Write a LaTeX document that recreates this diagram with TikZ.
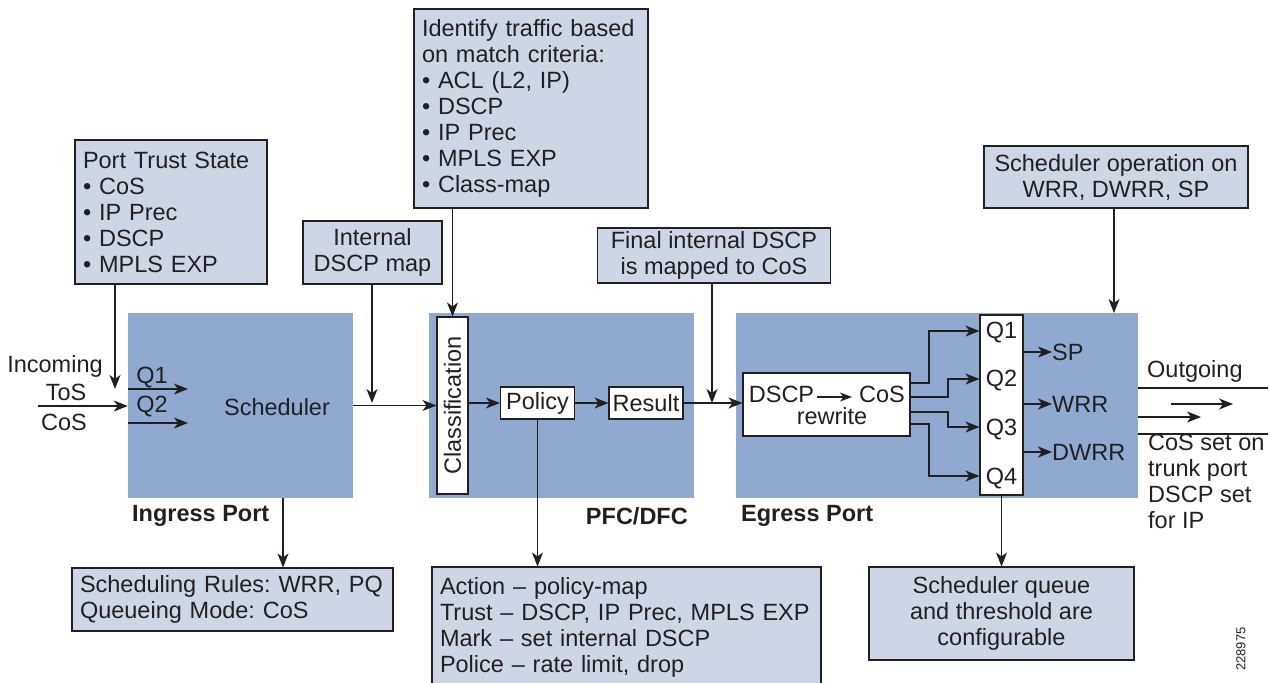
\documentclass[tikz,border=0pt]{standalone}
\usepackage{fontspec}
\setmainfont{Liberation Sans}
\usetikzlibrary{arrows.meta}
\definecolor{bluefill}{RGB}{143,169,208}
\definecolor{notefill}{RGB}{205,214,229}
\definecolor{ink}{RGB}{35,31,32}
\frenchspacing
\begin{document}
\begin{tikzpicture}[x=1pt,y=-1pt,
  every node/.style={font=\fontsize{23.5}{26}\selectfont\frenchspacing, text=ink, inner sep=0pt},
  bluebox/.style={fill=bluefill, draw=none},
  note/.style={fill=notefill, draw=ink, line width=1.1pt},
  wbox/.style={fill=white, draw=ink, line width=1.1pt},
  lbl/.style={font=\fontsize{23.5}{26}\selectfont\bfseries},
  arr/.style={-{Stealth[length=14pt,width=11pt,inset=4pt]}, line width=1.2pt, draw=ink},
  ln/.style={line width=1.2pt, draw=ink}]
\useasboundingbox (0,0) rectangle (1270,683);

% main blocks
\node[bluebox, minimum width=225, minimum height=185] (ingress) at (240.5,405.5) {};
\node[bluebox, minimum width=265, minimum height=185] (pfc) at (561.5,405.5) {};
\node[bluebox, minimum width=402, minimum height=185] (egress) at (937,405.5) {};

\node[lbl, anchor=west] (inglbl) at (132,516) {Ingress Port};
\node[lbl, anchor=east] (pfclbl) at (688,516) {PFC/DFC};
\node[lbl, anchor=west] (egrlbl) at (741,516) {Egress Port};

% ingress contents
\node (sched) at (277,407) {Scheduler};
\node (q1i) at (152,378) {Q1};
\node (q2i) at (152,407) {Q2};
\coordinate (q1s) at (128,389); \coordinate (q1e) at (188,389);
\coordinate (q2s) at (128,423); \coordinate (q2e) at (188,423);
\draw[arr] (q1s) -- (q1e);
\draw[arr] (q2s) -- (q2e);

% incoming
\node (incoming) at (55,366) {Incoming};
\node (tos) at (66,392) {ToS};
\node (cosin) at (64,422) {CoS};
\coordinate (inL) at (38,406);
\draw[arr] (inL) -- (inL -| ingress.west);

% PFC contents
\node[wbox, rotate=90, minimum width=177, minimum height=31] (classif) at (452.5,405.5) {Classification};
\node[wbox, minimum width=74, minimum height=32] (policy) at (537.5,403) {Policy};
\node[wbox, minimum width=74, minimum height=32] (result) at (646,403) {Result};

% egress contents
\node[wbox, minimum width=167, minimum height=63] (dscp) at (826.5,404.5) {};
\node (dtxt) at (781.5,394) {DSCP};
\node (ctxt) at (882,394) {CoS};
\node (rtxt) at (832,416) {rewrite};
\draw[line width=1.2pt, draw=ink, -{Stealth[length=12pt,width=9pt,inset=3.5pt]}] (817,397) -- (852,397);
\node[wbox, minimum width=43, minimum height=180] (queue) at (1001.5,405) {};
\node (qa) at (1001.5,333) {Q1};
\node (qb) at (1001.5,381) {Q2};
\node (qc) at (1001.5,430) {Q3};
\node (qd) at (1001.5,479) {Q4};
\draw[arr] (dscp.east |- 0,383) -- (929,383) -- (929,331) -- (queue.west |- 0,331);
\draw[arr] (dscp.east |- 0,397) -- (948,397) -- (948,379) -- (queue.west |- 0,379);
\draw[arr] (dscp.east |- 0,412) -- (948,412) -- (948,427) -- (queue.west |- 0,427);
\draw[arr] (dscp.east |- 0,424) -- (929,424) -- (929,476) -- (queue.west |- 0,476);

\node[anchor=west] (sp) at (1052,352) {SP};
\node[anchor=west] (wrr) at (1052,404) {WRR};
\node[anchor=west] (dwrr) at (1052,452) {DWRR};
\draw[arr] (queue.east |- sp.west) -- (sp.west);
\draw[arr] (queue.east |- wrr.west) -- (wrr.west);
\draw[arr] (queue.east |- dwrr.west) -- (dwrr.west);

% outgoing
\node[anchor=west] (outgoing) at (1147,371) {Outgoing};
\coordinate (outTop) at (1268,388);
\coordinate (outBot) at (1268,434);
\draw[ln] (egress.east |- outTop) -- (outTop);
\draw[ln] (egress.east |- outBot) -- (outBot);
\coordinate (oa1) at (1171,404); \coordinate (oa2) at (1233,404);
\coordinate (ob1) at (1138,417); \coordinate (ob2) at (1201,417);
\draw[arr] (oa1) -- (oa2);
\draw[arr] (ob1) -- (ob2);
\node[anchor=north west, align=left] (cosset) at (1148,434) {CoS set on\\trunk port\\DSCP set\\for IP};

% main flow
\draw[arr] (ingress.east |- classif.north) -- (classif.north);
\draw[arr] (classif.south |- policy.west) -- (policy.west);
\draw[arr] (policy) -- (result);
\draw[arr] (result.east) -- (dscp.west |- result.east);

% annotation notes
\node[note, minimum width=192, minimum height=144, text width=176, inner xsep=8pt, align=left] (trust) at (171,212)
  {Port Trust State\\\textbullet\ CoS\\\textbullet\ IP Prec\\\textbullet\ DSCP\\\textbullet\ MPLS EXP};
\node[note, minimum width=139, minimum height=63, align=center] (intmap) at (372.5,252.5) {Internal\\DSCP map};
\node[note, minimum width=234, minimum height=199, text width=218, inner xsep=8pt, align=left] (ident) at (531,108.5)
  {Identify traffic based\\on match criteria:\\\textbullet\ ACL (L2, IP)\\\textbullet\ DSCP\\\textbullet\ IP Prec\\\textbullet\ MPLS EXP\\\textbullet\ Class-map};
\node[note, minimum width=233, minimum height=55, align=center] (final) at (714,255.5) {Final internal DSCP\\is mapped to CoS};
\node[note, minimum width=264, minimum height=62, align=center] (schop) at (1116,177) {Scheduler operation on\\WRR, DWRR, SP};

\node[note, minimum width=321, minimum height=63, text width=305, inner xsep=8pt, align=left] (rules) at (232.5,599.5)
  {Scheduling Rules: WRR, PQ\\Queueing Mode: CoS};
\node[note, minimum width=389, minimum height=121, text width=373, inner xsep=8pt, align=left] (action) at (626.5,627.5)
  {Action -- policy-map\\Trust -- DSCP, IP Prec, MPLS EXP\\Mark -- set internal DSCP\\Police -- rate limit, drop};
\node[note, minimum width=265, minimum height=93, align=center] (sqcfg) at (1001.5,613.5)
  {Scheduler queue\\and threshold are\\configurable};

% annotation connectors
\coordinate (trustIn) at (115,389);
\draw[arr] (trust.south -| trustIn) -- (trustIn);
\coordinate (mapIn) at (372,403);
\draw[arr] (intmap.south -| mapIn) -- (mapIn);
\draw[arr] (ident.south -| classif.east) -- (classif.east);
\coordinate (finalIn) at (712,403);
\draw[arr] (final.south -| finalIn) -- (finalIn);
\coordinate (schopIn) at (1114,313);
\draw[arr] (schop.south -| schopIn) -- (schopIn);
\draw[arr] (ingress.south -| 283,0) -- (rules.north -| 283,0);
\draw[arr] (policy.south) -- (action.north -| policy.south);
\draw[arr] (queue.south) -- (sqcfg.north -| queue.south);

\node[rotate=90, font=\fontsize{13}{13}\selectfont] (fignum) at (1241,649) {228975};
\end{tikzpicture}
\end{document}
